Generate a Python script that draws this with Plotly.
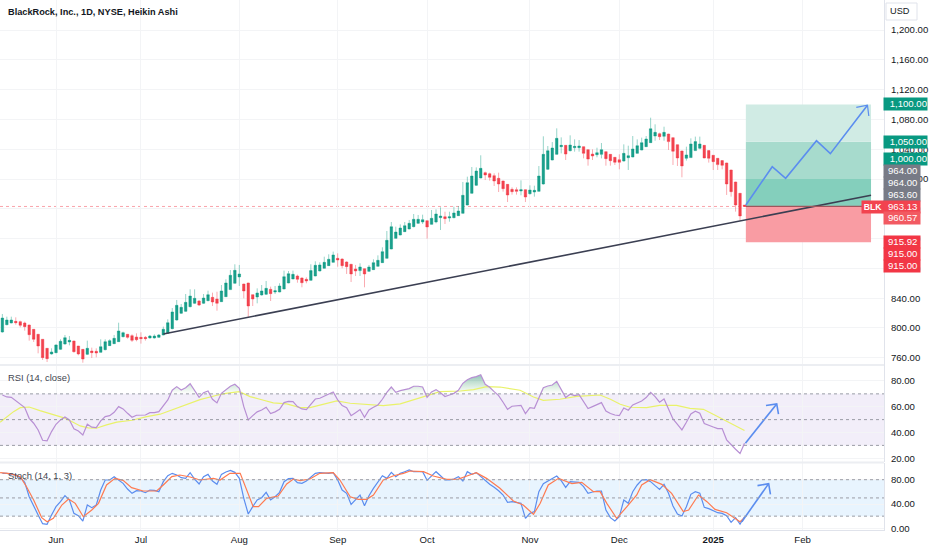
import numpy as np
import plotly.graph_objects as go

# bar number, 0 = first session of June 2024
first_bar = -12

opens = [794.6,804.4,806.7,808.9,808.5,806.7,804,798.2,791.5,784.8,772.7,765.1,766.9,771.3,778.5,781.2,782.5,775.8,771.3,764.6,769.1,768.7,767.3,770.9,776.3,778.9,781.6,788.3,791.5,789.7,787.9,787.4,787.4,786.6,786.6,787.4,790.6,792.8,799.1,810.7,819.7,822.3,828.6,833.1,836.2,833.1,836.7,841.1,838.9,
         835.3,842,851.5,860,868.5,859,860.4,844.7,841.6,844.3,845.2,851.9,848.3,848.3,852.3,860.4,865.8,869.8,867.1,865.3,864,869.8,876.5,880.1,883.7,888.1,893.5,892.6,888.6,885.5,879.2,877,879.6,876,878.3,882.8,887.7,893.5,906,920.3,924.8,929.3,932.9,936,940.5,942.3,944,939.1,942.3,948.1,949.4,947.6,948.1,950.8,
         953.9,965.1,980.8,991.5,1001.3,1008.5,1007.1,1004.5,1000.9,997.3,992.8,986.1,985.7,983.9,985.7,980.3,982.5,983.4,993.3,1013,1025.5,1033.1,1043.4,1045.2,1038,1042,1042,1043.4,1039.4,1033.5,1032.6,1033.1,1036.7,1033.1,1029.1,1025.9,1024.1,1028.6,1029.5,1034.4,1038.9,1043.4,1048.8,1057.7,1060.8,1057.3,
         1060.4,1055.5,1046.1,1037.6,1027.8,1028.7,1038.1,1041.2,1045.2,1038.1,1031.8,1027.8,1024.7,1021.5,1012.1,996,980.8,965]
highs = [818.8,815.2,815.2,814.3,809.8,808.5,804.5,798.5,792,785,773,772.7,778,784.8,790.6,789.2,783,776,771.5,783,773.6,772.7,784.8,784.8,784.8,790.6,807.1,795,792,791.5,792.8,794.2,789.2,790.6,791.5,791.9,801.8,811.6,826.8,837.6,832.2,845.6,851.9,851.9,837.6,845.6,850.1,847.4,848.7,
         857.7,865.3,877.8,885.5,884.6,859.5,860.8,845,853.2,857.7,863.1,855.5,856.4,860,877,876.5,877,871.6,868,868,885.5,889.5,888.1,895.7,898.9,902.5,900.2,893.5,889.5,886,884.6,886.8,880,884.6,892.2,897.5,908.3,930.2,942.3,936,939.1,942.3,945,953,951.7,952.1,944.5,958.4,959.3,962,956.1,956.1,962.9,963.7,
         996,1003.1,1016.1,1015.6,1031.8,1009.9,1008.5,1007.6,1008.5,997.8,993.2,988.8,988.8,998.2,986.1,991.5,991,1017.4,1057.3,1044.3,1049.6,1068,1055.9,1045.6,1058.6,1053.2,1052.3,1043.8,1039.8,1039.8,1042,1048.3,1037.1,1033.5,1029.5,1033.1,1046.5,1044.7,1057.7,1053.2,1055.5,1057.7,1082.3,1073.4,1062.2,1070.2,
         1060.8,1055.9,1046.5,1038,1043.4,1054.6,1056.9,1056.9,1045.6,1038.5,1032.2,1028.2,1025.1,1022,1012.5,996.4,981.2,965.1]
lows = [793.7,803.6,806.2,804.4,800.9,796.4,783,781.2,766,757,754.3,764.2,766,770.4,777.6,776.7,766.9,763.3,753.4,763.7,759.7,760.6,766.9,770,775.8,778.5,781.2,787.4,785.7,781.2,782.1,779,783,785.7,785.7,786.6,790.1,791.9,798.2,809.8,818.8,821.5,827.7,832.2,829.5,832.2,835.8,829.5,823.2,
        834.9,841.6,851,859.5,856.4,839.8,814.3,829.5,833.1,843.4,844.3,836.2,845.6,847.9,851.9,860,865.3,860.8,854.6,860,863.5,869.3,876,879.6,883.2,887.7,882.3,880.1,872.5,861.7,869.8,869.8,854.6,875.2,877.8,882.3,887.2,893.1,905.6,919.9,924.4,928.8,932.4,935.1,939.6,939.6,919.9,938.7,940.5,931.5,939.6,942.7,947.2,950.3,
        953.5,964.6,980.3,990.6,1000.9,998.6,997.8,990.6,982.5,983,969.1,979,979,978.1,969.1,979,976.3,983,992.4,1012.1,1025,1032.6,1034.4,1025.5,1037.1,1036.7,1036.7,1027.7,1017.9,1025.5,1029.1,1027.7,1017.9,1017.9,1018.8,1013,1023.3,1012.1,1029.1,1034,1038.5,1042.9,1048.3,1051.4,1052.3,1051.4,
        1039,1018.8,1017.5,1002.3,1024.7,1028.2,1037.6,1039.9,1027.8,1022,1012.1,1012.1,1013,978.6,976.3,956.2,944.1,962.5]
closes = [813.4,810.7,810.7,807.1,803.6,801.8,791,784.8,775.8,760.2,758.8,767.8,777.2,782.1,787,783.4,768.2,765.1,758.4,772.7,766.9,766.4,774.9,781.6,783,786.1,796,793.7,787.4,783.4,784.3,785.7,785.7,789.2,789.2,790.6,798.2,807.1,821.5,830.4,827.7,834.4,842.9,839.8,830.8,840.2,844.7,834.9,833.1,
          849.7,860.4,870.7,877.4,872.5,849.7,829.5,838.9,847,849.7,853.2,846.1,850.1,856.4,868.9,872.9,872,865.3,860.8,863.1,877,884.1,884.6,888.1,892.2,898,891.3,883.7,882.3,872.5,876.5,881.9,872.5,881.9,887.7,890.8,902.5,917.7,936,928.8,934.2,937.3,940.5,945.9,945.9,945.4,935.6,947.2,953,950.3,946.8,949.4,954.4,957,
          978.1,995.1,1004,1010.7,1014.3,1005.4,1002.2,997.3,993.3,987,978.5,983,983.4,985.7,975.8,985.2,984.8,1004,1033.1,1038,1041.6,1054.6,1045.2,1033.5,1045.6,1043.8,1044.3,1034.4,1026.8,1030.9,1035.3,1039.4,1027.3,1024.6,1022.4,1022.4,1034.4,1031.3,1040.3,1044.7,1048.8,1053.7,1067.5,1062.6,1056.8,1062.6,
          1050.2,1037.2,1028.2,1017.5,1032.3,1047,1050.2,1047,1028.2,1027.8,1023.3,1019.3,1018.4,993.3,983,965.1,950.4,963.1]

rsi = [69.1,67.6,67.3,64.5,61.4,59.3,51,47.2,42,34,33.5,40.7,46.4,49.8,52.1,49.8,42.8,41.2,38.1,46.4,44.1,43.8,49,52.3,53.1,55.7,60.1,58.3,54.9,51.8,53.4,53.6,53.6,55.4,55.4,56.2,60.9,65.3,72.8,75.6,73,74.8,77.9,72.2,67.3,70.9,72.2,65.8,63,70.4,73.5,75.9,77.4,74.3,60.1,49.8,53.1,56,57.5,59.6,54.7,56,58,63.2,64.2,64,60.1,
       58.3,57.8,61.9,66,66.6,68.4,69.7,71.5,65.3,60.9,59.3,53.1,55.4,57.8,51.8,57.5,59.6,61.4,65.8,71.2,75.3,71.2,72.5,73.3,74.1,75.9,75.9,75.3,67.3,71.5,73.3,70.9,67.9,69.1,70.4,72.8,78.2,81,82.6,83.4,84.9,77.4,75.1,71.7,68.6,63.5,58,60.4,60.9,61.1,54.7,59.3,58.8,67.1,74.8,76.1,76.9,79.7,73,67.1,69.7,68.6,69.4,64,58.6,60.1,61.6,
       63.2,56.7,54.7,53.6,53.1,59,57.3,61.4,63.2,64.5,67.1,71.2,67.9,63.5,66,58.8,50.5,46.4,42,48,54.4,56.5,54.9,46.9,45.9,44.3,43,43,34.3,30.4,27,23.7,31.7]
rsi_ma_bars = [-12.5,-11,-9.5,-8,-6,-3.6,-1.3,1.6,3.5,5.4,7.2,9,11.3,13.6,17,20.3,23.3,25.5,29.2,32.2,36,38,41,43.4,45.6,48.6,51.6,54.6,56.8,59.8,62.8,65.8,69.5,73.2,77,80,82.9,85.9,90.4,93.4,96.3,99.3,103.8,106.8,109,112.7,116.5,119.5,121.7,124,126.2,128.4,132.1,135,138.8,141.8,144.8,147,150,152.3,154]
rsi_ma = [48,52.3,56.2,59.3,59.8,57,54.4,51.6,48.5,45.1,43.6,43.3,45.9,48,49.5,52.3,54.2,57,61.9,65.5,68.9,70.4,71.7,67.9,65.8,63,62.2,59.3,59.3,61.9,64.5,62.7,61.7,60.9,62.2,65.3,68.6,71.7,72.2,73.3,75.6,75.3,72.8,67.6,65,65.8,68.1,68.9,69.1,65.8,61.9,59.6,59.3,61.1,61.1,58.8,58,54.2,48.5,44.1,41.5]

stoch_k = [90.5,90.5,88.8,87.7,83.3,75.7,52,35.6,21.9,7.6,6.5,21.9,35.6,43.8,53.7,46.6,24.6,20.8,12,38.3,34,38.3,63,79.5,79.5,85,79.5,74,64.7,57.6,61.9,61.4,58.6,63,62.5,60.3,76.8,86.6,90.5,87.7,83.3,82.2,91.6,81.1,72.9,85,88.8,77.9,72.4,88.8,92.7,95.4,92.1,82.2,49.3,23.5,35.6,46.6,50.4,59.2,46.6,52,59.2,76.8,81.7,82.2,75.1,
           74,77.9,85,90.5,91.6,90.5,90.5,91.6,79.5,63,57.6,39.4,46.6,54.8,37.2,53.7,65.8,76.8,86.6,82.2,92.1,85,90.5,93.2,96,93.2,93.2,93.2,79,86.6,93.2,86.6,79.5,79.5,81.1,85,77.9,93.2,88.8,91.6,85,79.5,72.4,67.4,61.9,54.8,42.7,43.8,42.7,41.1,16.4,24.6,27.4,60.3,73.5,77.9,82.2,86.1,78.4,67.4,76.8,75.7,75.7,68.5,57.6,59.8,61.4,
           61.4,30.1,17.5,12,19.1,46.6,41.1,60.3,71.3,79.5,80.1,76.8,70.2,64.1,72.4,57.6,36.7,23.5,20.2,35.6,55.9,60.3,57.6,34.5,32.3,29,25.7,24.6,20.8,9.8,17.5,7,19.1]
stoch_d_bars = [-12.5,-10.3,-8,-6.6,-5,-3.2,-2,-0.6,1.3,2.8,4.3,6.1,8,9.5,11.3,13.2,15,16.9,19.5,22.5,24,25.9,27.7,30,32.2,35.2,36.7,38.9,41.2,42.7,44.1,45.3,47.1,49.7,51.6,53.1,54.6,56.8,59,62,63.5,65.8,67.6,69.5,71,73.2,75.5,77.7,79.2,82.2,84.4,87.4,90,91.9,94,96.3,99.3,102.3,104.5,106.8,108.3,110.1,112.4,115.4,117.6,120.2,121.7,123.2,125.4,127.7,129.9,131,132.9,135.5,137.7,140.3,141.5,143.7,145.6,147.4,150,153,154]
stoch_d = [91.6,89.9,85,68.5,46.6,17.5,10.9,16.4,38.3,48.2,41.1,19.1,30.1,41.1,71.3,82.2,79,66.9,61.4,61.4,71.3,85,87.7,84.4,79.5,82.2,79.5,90.5,90.5,63,35.6,35.6,49.3,53.2,72.9,81.1,78.4,81.1,90.5,91.6,79.5,52,47.7,47.7,54.8,79.5,86.6,90.5,94.3,93.2,86.1,80.6,81.1,86.1,91.6,82.2,65.8,45,38.3,23,41.1,71.3,82.2,73.5,75.7,60.3,60.3,41.1,16.4,35.6,54.8,71.3,80.1,72.4,57.6,27.4,30.1,54.8,43.8,31.2,25.7,10.9,17.5]

month_bars = [0,19,41,63,83,106,126,147,167]
month_labels = ['Jun','Jul','Aug','Sep','Oct','Nov','Dec','<b>2025</b>','Feb']
price_ticks = list(range(760,1201,40))

# long position tool and drawings
entry, stop = 963.13, 915
targets = [1000,1050,1100]
zone_start, zone_end = 154.3, 182.3
trend_bars, trend_prices = [24,182.3], [792,978.1]
path_bars = [154.3,160.2,163.2,170.1,173.2,181.5]
path_prices = [965.1,1016.5,1001,1051.4,1034,1099]
head_bars, head_prices = [179,181.5,181.8], [1096.2,1099,1084.6]
rsi_arrow_bars, rsi_arrow_vals = [154.2,161.2,None,158.8,161.2,161.6], [31.7,62.2,None,60.9,62.2,54.2]
stoch_arrow_bars, stoch_arrow_vals = [153.4,159.4,None,156.9,159.4,159.8], [10.9,73.5,None,70.2,73.5,55.9]

# axis labels stacked on the price scale
tag_texts = ['1,100.00','1,050.00','1,000.00','964.00','964.00','963.60','963.13','960.57','915.92','915.00','915.00']
tag_pixels = [104.5,141.7,159,171.3,183,194.7,206.7,218.3,241.7,254,265.7]
tag_colors = ['#089981']*3+['#787b86']*3+['#f2434f','#f25a62','#f23645','#f23645','#f23645']
tag_widths = [43,43,43,36,36,36,36,36,36,36,36]

bars = list(range(first_bar, first_bar+len(closes)))
W, H = 932, 550
FONT = 'Liberation Sans'
BLUE = '#5b8def'
TXT = 9.6

fig = go.Figure()

fig.add_trace(go.Candlestick(x=bars, open=opens, high=highs, low=lows, close=closes,
                             whiskerwidth=0,
                             increasing=dict(line=dict(color='rgba(8,153,129,0.42)', width=1), fillcolor='#1b9f8c'),
                             decreasing=dict(line=dict(color='rgba(242,54,69,0.42)', width=1), fillcolor='#f2444f'),
                             showlegend=False, hoverinfo='skip'))
fig.add_trace(go.Scatter(x=trend_bars, y=trend_prices, mode='lines', line=dict(color='#3b3f52', width=1.6)))
fig.add_trace(go.Scatter(x=path_bars, y=path_prices, mode='lines', line=dict(color=BLUE, width=1.6)))
fig.add_trace(go.Scatter(x=head_bars, y=head_prices, mode='lines', line=dict(color=BLUE, width=1.2)))

# rsi pane
over = np.maximum(rsi, 70)
fig.add_trace(go.Scatter(x=bars, y=[70]*len(bars), yaxis='y2', mode='lines', line=dict(width=0)))
fig.add_trace(go.Scatter(x=bars, y=over, yaxis='y2', mode='lines', line=dict(width=0), fill='tonexty',
                         fillgradient=dict(type='vertical', colorscale=[[0,'rgba(76,175,80,0.0)'],[1,'rgba(8,120,100,0.45)']])))
fig.add_trace(go.Scatter(x=rsi_ma_bars, y=rsi_ma, yaxis='y2', mode='lines', line=dict(color='#e9f26a', width=1.2)))
fig.add_trace(go.Scatter(x=bars, y=rsi, yaxis='y2', mode='lines', line=dict(color='#b88fd4', width=1.2)))
fig.add_trace(go.Scatter(x=rsi_arrow_bars, y=rsi_arrow_vals, yaxis='y2', mode='lines', line=dict(color=BLUE, width=1.6)))

# stoch pane
fig.add_trace(go.Scatter(x=bars, y=stoch_k, yaxis='y3', mode='lines', line=dict(color=BLUE, width=1.2)))
fig.add_trace(go.Scatter(x=stoch_d_bars, y=stoch_d, yaxis='y3', mode='lines', line=dict(color='#ff7a50', width=1.2)))
fig.add_trace(go.Scatter(x=stoch_arrow_bars, y=stoch_arrow_vals, yaxis='y3', mode='lines', line=dict(color=BLUE, width=1.6)))

shapes = []
# profit and loss zones
zone_cols = ['#84cfbc','#a7dbcd','#d0ebe4']
lo = entry
for t, c in zip(targets, zone_cols):
    shapes.append(dict(type='rect', xref='x', yref='y', x0=zone_start, x1=zone_end, y0=lo, y1=t,
                       fillcolor=c, line_width=0, layer='between'))
    lo = t
shapes.append(dict(type='rect', xref='x', yref='y', x0=zone_start, x1=zone_end, y0=stop, y1=entry,
                   fillcolor='#f99ca3', line_width=0, layer='between'))
shapes.append(dict(type='line', xref='x', yref='y', x0=zone_start, x1=zone_end, y0=entry, y1=entry,
                   line=dict(color='#a0555c', width=1.2)))
# last price line
shapes.append(dict(type='line', xref='paper', yref='y', x0=0, x1=884/W, y0=entry, y1=entry,
                   line=dict(color='rgba(242,54,69,0.45)', width=1, dash='dot'), layer='between'))
# oscillator bands
shapes.append(dict(type='rect', xref='paper', yref='y2', x0=0, x1=884/W, y0=30, y1=70,
                   fillcolor='rgba(126,87,194,0.1)', line_width=0, layer='between'))
shapes.append(dict(type='rect', xref='paper', yref='y3', x0=0, x1=884/W, y0=20, y1=80,
                   fillcolor='rgba(33,150,243,0.1)', line_width=0, layer='between'))
for ref, levels in (('y2',[30,50,70]), ('y3',[20,50,80])):
    for lv in levels:
        shapes.append(dict(type='line', xref='paper', yref=ref, x0=0, x1=884/W, y0=lv, y1=lv,
                           line=dict(color='#9a9da6', width=1, dash='3px,3px')))
# pane separators
for px in (365, 462.5):
    shapes.append(dict(type='line', xref='paper', yref='paper', x0=0, x1=884/W, y0=1-px/H, y1=1-px/H,
                       line=dict(color='#eceef2', width=2)))
# currency button
shapes.append(dict(type='rect', xref='paper', yref='paper', x0=886/W, x1=917/W, y0=1-20/H, y1=1-3/H,
                   line=dict(color='#e0e3eb', width=1), fillcolor='white'))

annotations = [
    dict(text='<b>BlackRock, Inc., 1D, NYSE, Heikin Ashi</b>', x=6/W, y=1-12/H, font=dict(size=9.2, color='#131722', family=FONT),
         xanchor='left', yanchor='middle'),
    dict(text='RSI (14, close)', x=6/W, y=1-377/H, font=dict(size=9.4, color='#434651', family=FONT), xanchor='left', yanchor='middle'),
    dict(text='Stoch (14, 1, 3)', x=6/W, y=1-475/H, font=dict(size=9.4, color='#434651', family=FONT), xanchor='left', yanchor='middle'),
    dict(text='USD', x=900/W, y=1-11/H, font=dict(size=9.2, color='#131722', family=FONT), xanchor='center', yanchor='middle'),
    dict(text='<b>BLK</b>', x=873/W, y=1-206.7/H, font=dict(size=8.6, color='white', family=FONT), bgcolor='#f2434f',
         xanchor='center', yanchor='middle', width=22, height=11.6, borderpad=0),
]
for txt, px, col, w in zip(tag_texts, tag_pixels, tag_colors, tag_widths):
    pad = '' if w > 40 else '&nbsp;'
    annotations.append(dict(text=txt+pad, x=(884+w/2)/W, y=1-px/H, font=dict(size=TXT, color='white', family=FONT),
                            bgcolor=col, xanchor='center', yanchor='middle', width=w, height=11.7, borderpad=0, align='right'))
for a in annotations:
    a.update(xref='paper', yref='paper', showarrow=False)

yaxis_style = dict(side='right', anchor='x', showgrid=True, gridcolor='#f3f4f6', zeroline=False, ticks='outside', ticklen=4,
                   tickcolor='rgba(0,0,0,0)', showline=True, linecolor='#e0e3eb', automargin=False,
                   tickfont=dict(size=TXT, color='#131722'))

fig.update_layout(
    width=W, height=H, margin=dict(l=0, r=0, t=0, b=0, autoexpand=False), autosize=False,
    paper_bgcolor='white', plot_bgcolor='white', showlegend=False,
    font=dict(family=FONT, size=TXT, color='#131722'),
    boxgap=0.25, boxgroupgap=0.25,
    shapes=shapes, annotations=annotations,
    xaxis=dict(domain=[0,884/W], range=[-12.53,185.2], anchor='y3', tickvals=month_bars, ticktext=month_labels,
               showgrid=True, gridcolor='#f3f4f6', gridwidth=1, zeroline=False, showline=True, linecolor='#e0e3eb',
               ticks='', automargin=False, tickfont=dict(size=TXT, color='#131722'), rangeslider=dict(visible=False)),
    yaxis=dict(domain=[1-365/H,1], range=[750.3,1240.3], tickvals=price_ticks, tickformat=',.2f', **yaxis_style),
    yaxis2=dict(domain=[1-462/H,1-365/H], range=[17.1,92.4], tickvals=[20,40,60,80], tickformat='.2f', **yaxis_style),
    yaxis3=dict(domain=[1-530/H,1-463/H], range=[-2.8,107.5], tickvals=[0,40,80], tickformat='.2f', **yaxis_style),
)

# the page's default body margin would push the chart 8px off
fig.write_html("out.html", config=dict(displayModeBar=False), post_script="document.body.style.margin='0';")
